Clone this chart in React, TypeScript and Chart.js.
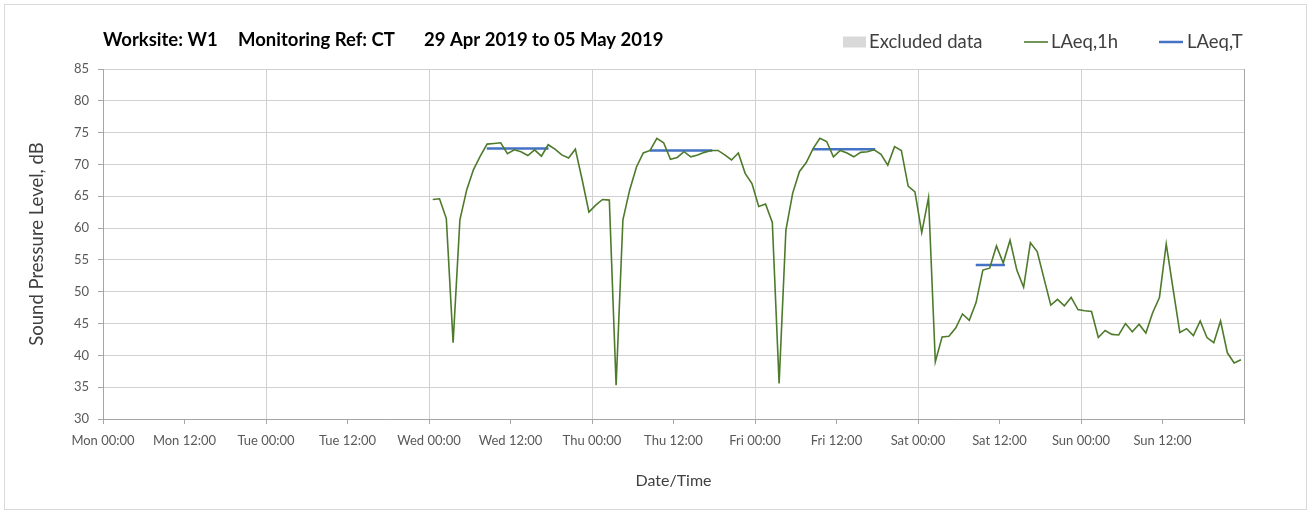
import React, { useEffect, useRef } from 'react';
import { Chart, registerables } from 'chart.js';

Chart.register(...registerables);

// ---- Data ----
const xTickLabels = [
  'Mon 00:00', 'Mon 12:00', 'Tue 00:00', 'Tue 12:00', 'Wed 00:00', 'Wed 12:00',
  'Thu 00:00', 'Thu 12:00', 'Fri 00:00', 'Fri 12:00', 'Sat 00:00', 'Sat 12:00',
  'Sun 00:00', 'Sun 12:00', '',
];

// hours since Mon 00:00 of the first hourly reading
const firstReadingHour = 48.55;

// LAeq,1h hourly readings (dB)
const laeq1hWed = [
  64.5, 64.6, 61.5, 42.0, 61.3, 66.0, 69.2, 71.3, 73.2, 73.3, 73.4, 71.7,
  72.3, 72.0, 71.4, 72.3, 71.3, 73.1, 72.4, 71.5, 71.0, 72.4, 67.6, 62.5,
];
const laeq1hThu = [
  63.6, 64.5, 64.4, 35.3, 61.3, 66.0, 69.6, 71.8, 72.2, 74.1, 73.4, 70.8, 71.1,
  72.0, 71.2, 71.5, 71.9, 72.2, 72.2, 71.5, 70.7, 71.8, 68.6, 67.0, 63.4, 63.8,
];
const laeq1hFri = [
  60.9, 35.6, 59.7, 65.5, 68.9, 70.3, 72.5, 74.1, 73.6, 71.2, 72.2, 71.8,
  71.2, 71.9, 72.0, 72.3, 71.6, 69.9, 72.8, 72.2, 66.6, 65.7, 59.3, 64.8,
];
const laeq1hSat = [
  39.0, 42.9, 43.0, 44.3, 46.5, 45.5, 48.3, 53.4, 53.7, 57.2, 54.5, 58.1,
  53.4, 50.7, 57.7, 56.3, 52.1, 47.9, 48.8, 47.8, 49.1, 47.2, 47.0,
];
const laeq1hSun = [
  46.9, 42.8, 43.9, 43.3, 43.2, 45.0, 43.7, 44.9, 43.5, 46.7, 49.1, 57.5,
  50.5, 43.6, 44.2, 43.1, 45.4, 42.8, 42.0, 45.4, 40.4, 38.8, 39.3,
];
const laeq1h = [...laeq1hWed, ...laeq1hThu, ...laeq1hFri, ...laeq1hSat, ...laeq1hSun];

// LAeq,T period values
const laeqTStart = [56.5, 80.5, 104.5, 128.5];
const laeqTEnd = [65.6, 89.7, 113.7, 132.8];
const laeqTValue = [72.5, 72.2, 72.4, 54.2];

const seriesLabels = ['Excluded data', 'LAeq,1h', 'LAeq,T'];
const titleParts = ['Worksite: W1', 'Monitoring Ref: CT', '29 Apr 2019 to 05 May 2019'];
const yTitle = 'Sound Pressure Level, dB';
const xTitle = 'Date/Time';

// ---- Styles ----
const FONT = 'Lato, "Open Sans", sans-serif';
const GREEN = '#4d7a2b';
const BLUE = '#4472c4';
const EXCL = '#d9d9d9';
const GRID = '#d0d0d0';
const AXIS = '#a6a6a6';

const decorPlugin = {
  id: 'decor',
  beforeDraw(chart: any) {
    const { ctx, width, height } = chart;
    ctx.save();
    ctx.fillStyle = '#ffffff';
    ctx.fillRect(0, 0, width, height);
    ctx.restore();
  },
  afterDraw(chart: any) {
    const { ctx } = chart;
    ctx.save();
    // outer frame
    ctx.strokeStyle = '#d9d9d9';
    ctx.lineWidth = 1;
    ctx.strokeRect(4.5, 4.5, 1302, 505);

    // title
    ctx.font = `bold 18.5px ${FONT}`;
    ctx.fillStyle = '#000000';
    ctx.textBaseline = 'middle';
    ctx.textAlign = 'left';
    const titleX = [chart.chartArea.left, 238, 424];
    titleParts.forEach((t, i) => ctx.fillText(t, titleX[i], 40));

    // legend
    const ds = chart.data.datasets;
    const boxX = [843, 1024, 1159];
    const textX = [869, 1051, 1187];
    const ly = 42;
    ctx.font = `18.5px ${FONT}`;
    ds.forEach((d: any, i: number) => {
      if (i === 0) {
        ctx.fillStyle = d.backgroundColor;
        ctx.fillRect(boxX[i], ly - 5.5, 23, 11);
      } else {
        ctx.strokeStyle = d.borderColor;
        ctx.lineWidth = d.borderWidth;
        ctx.beginPath();
        ctx.moveTo(boxX[i], ly);
        ctx.lineTo(boxX[i] + 24, ly);
        ctx.stroke();
      }
      ctx.fillStyle = '#404040';
      ctx.fillText(d.label, textX[i], ly);
    });
    ctx.restore();
  },
};

export default function App() {
  const canvasRef = useRef<HTMLCanvasElement | null>(null);

  useEffect(() => {
    document.body.style.margin = '0';
    const canvas = canvasRef.current;
    if (!canvas) return;

    const laeq1hPoints = laeq1h.map((v, i) => ({ x: firstReadingHour + i, y: v }));
    const laeqTPoints: { x: number; y: number | null }[] = [];
    laeqTValue.forEach((v, i) => {
      laeqTPoints.push({ x: laeqTStart[i], y: v });
      laeqTPoints.push({ x: laeqTEnd[i], y: v });
      laeqTPoints.push({ x: laeqTEnd[i] + 0.01, y: null });
    });

    const chart = new Chart(canvas, {
      type: 'line',
      data: {
        datasets: [
          {
            label: seriesLabels[0],
            data: [],
            backgroundColor: EXCL,
            borderColor: EXCL,
            borderWidth: 0,
          },
          {
            label: seriesLabels[1],
            data: laeq1hPoints,
            borderColor: GREEN,
            backgroundColor: GREEN,
            borderWidth: 1.6,
            pointRadius: 0,
            tension: 0,
          },
          {
            label: seriesLabels[2],
            data: laeqTPoints as any,
            borderColor: BLUE,
            backgroundColor: BLUE,
            borderWidth: 2.5,
            pointRadius: 0,
            spanGaps: false,
          },
        ],
      },
      options: {
        responsive: false,
        animation: false,
        events: [],
        layout: { padding: { top: 69, right: 65, left: 0, bottom: 0 } },
        plugins: {
          legend: { display: false },
          title: { display: false },
          tooltip: { enabled: false },
        },
        scales: {
          x: {
            type: 'linear',
            min: 0,
            max: 168,
            afterFit: (scale: any) => { scale.height = 93; },
            ticks: {
              stepSize: 12,
              autoSkip: false,
              maxRotation: 0,
              minRotation: 0,
              padding: 9,
              color: '#595959',
              font: { family: FONT, size: 13 },
              callback: (value: any) => {
                const idx = Math.round(Number(value) / 12);
                return xTickLabels[idx] ?? '';
              },
            },
            grid: {
              color: (c: any) => {
                const v = c.tick?.value;
                if (v === 168) return AXIS;
                return v % 24 === 0 ? GRID : 'rgba(0,0,0,0)';
              },
              lineWidth: 1,
              drawTicks: true,
              tickLength: 5,
              tickColor: AXIS,
              tickWidth: 1,
            },
            border: { display: true, color: AXIS, width: 1 },
            title: {
              display: true,
              text: xTitle,
              color: '#404040',
              font: { family: FONT, size: 16 },
              padding: { top: 0, bottom: 22 },
            },
          },
          y: {
            type: 'linear',
            min: 30,
            max: 85,
            afterFit: (scale: any) => { scale.width = 103; },
            ticks: {
              stepSize: 5,
              padding: 9,
              color: '#595959',
              font: { family: FONT, size: 13 },
            },
            grid: {
              color: GRID,
              lineWidth: 1,
              drawTicks: true,
              tickLength: 5,
              tickColor: AXIS,
            },
            border: { display: true, color: AXIS, width: 1 },
            title: {
              display: true,
              text: yTitle,
              color: '#404040',
              font: { family: FONT, size: 18.5 },
              padding: { top: 26, bottom: 0 },
            },
          },
        },
      },
      plugins: [decorPlugin],
    });

    return () => chart.destroy();
  }, []);

  return (
    <div style={{ width: 1309, height: 512 }}>
      <canvas ref={canvasRef} width={1309} height={512} style={{ display: 'block' }} />
    </div>
  );
}
